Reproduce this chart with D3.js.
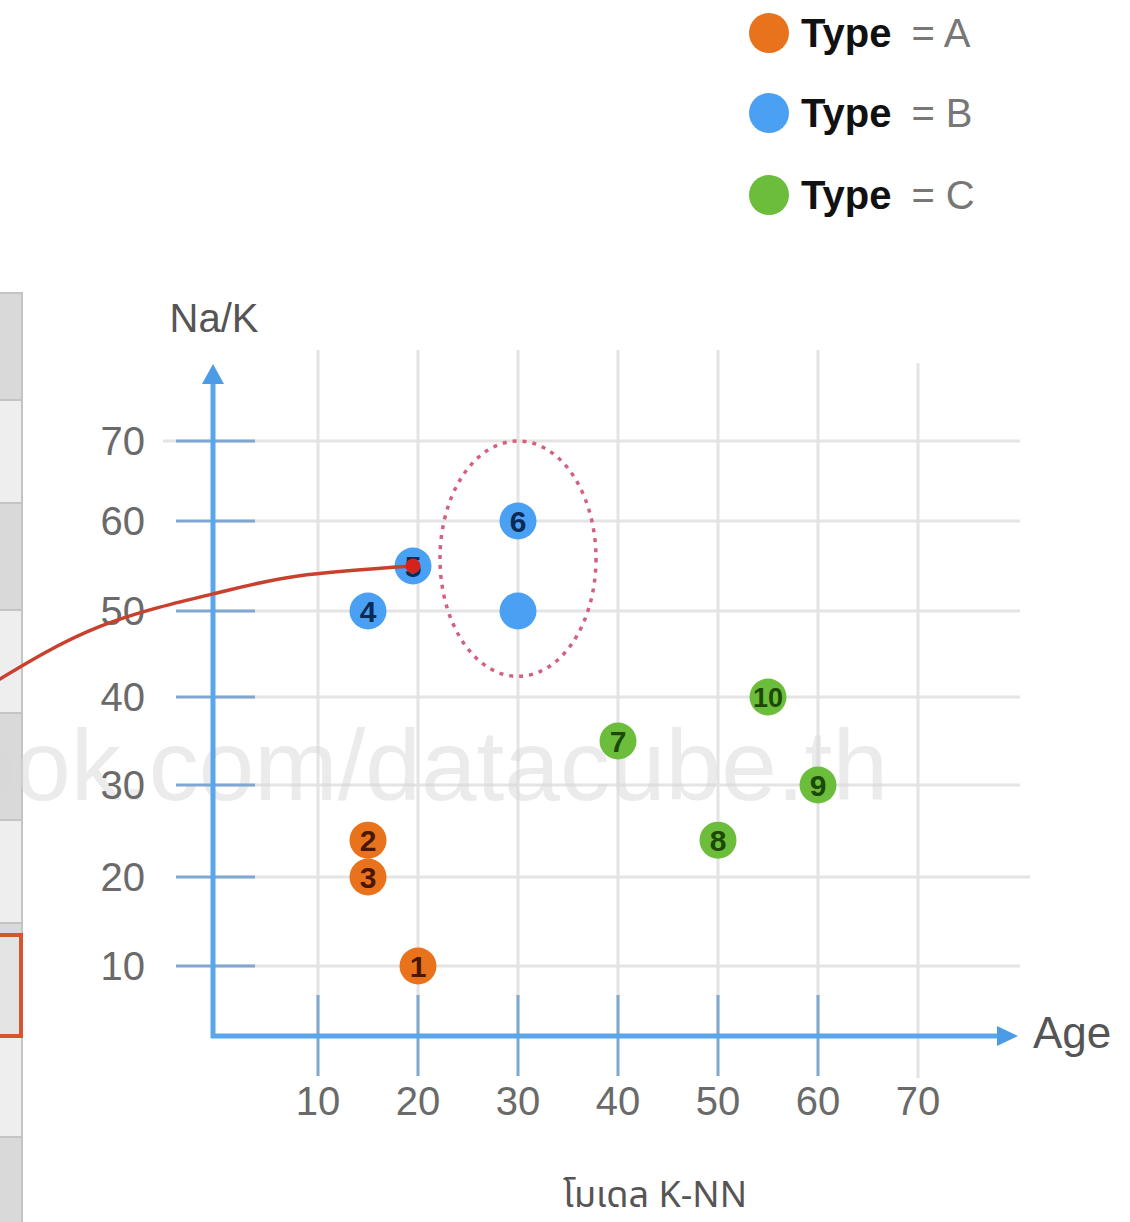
<!DOCTYPE html>
<html><head><meta charset="utf-8">
<script src="https://cdn.jsdelivr.net/npm/d3@7"></script>
<style>
html,body{margin:0;padding:0;background:#fff;}
svg{display:block;font-family:"Liberation Sans",Arial,Helvetica,sans-serif;}
</style></head>
<body>
<script>
// ---- data ----
const pointIds    = ["1","2","3","4","5","6","","7","8","9","10"];
const pointAge    = [20, 15, 15, 15, 19.5, 30, 30, 40, 50, 60, 55];
const pointNaK    = [10, 24, 20, 50, 55, 60, 50, 35, 24, 30, 40];
const pointType   = ["A","A","A","B","B","B","B","C","C","C","C"];
const types       = ["A","B","C"];
const typeColors  = ["#e8731c","#4aa0f2","#6cbd3c"];
const labelColors = ["#4a1800","#0b2a55","#1c4a05"];
const xTicks      = [10,20,30,40,50,60,70];
const yTicks      = [10,20,30,40,50,60,70];
const yTickPix    = [966,877,785,697,611,521,441];
// neighbourhood ellipse (data bounds) and connector curve (data coords)
const ellipseAge  = [22.2, 37.8];
const ellipseNaK  = [42.4, 70];
const curveAge    = [-22.5, -11.8, -0.5, 8, 19.5];
const curveNaK    = [41.6, 48.2, 51.9, 53.9, 55];
const legendText  = ["Type","= "];
const xTitle = "Age", yTitle = "Na/K", caption = "โมเดล K-NN";
const watermark = "facebook.com/datacube.th";

const W = 1130, H = 1222;
const svg = d3.select("body").append("svg").attr("width", W).attr("height", H);

// scales
const x = d3.scaleLinear().domain([10,70]).range([318,918]);
const y = d3.scaleLinear().domain(yTicks).range(yTickPix);
const color = d3.scaleOrdinal().domain(types).range(typeColors);
const lcolor = d3.scaleOrdinal().domain(types).range(labelColors);
const x0 = 213, y0 = 1036;

// ---- left partial table (decoration) ----
const rowEdges = [293,400,503,610,713,820,923,1037,1137,1240];
const tbl = svg.append("g");
for (let i = 0; i < rowEdges.length - 1; i++) {
  tbl.append("rect").attr("x", -10).attr("y", rowEdges[i]).attr("width", 32)
    .attr("height", rowEdges[i+1]-rowEdges[i])
    .attr("fill", i % 2 === 0 ? "#d9d9d9" : "#eeeeee")
    .attr("stroke", "#c4c4c4").attr("stroke-width", 2);
}
tbl.append("rect").attr("x", -10).attr("y", 935).attr("width", 31).attr("height", 101)
  .attr("fill", "#e4e4e4").attr("stroke", "#d4562a").attr("stroke-width", 4);

// ---- grid ----
const grid = svg.append("g").attr("stroke", "#e4e4e4").attr("stroke-width", 3);
grid.selectAll("line.v").data(xTicks).join("line")
  .attr("x1", d => x(d)).attr("x2", d => x(d))
  .attr("y1", d => d === 70 ? 363 : 350).attr("y2", d => d === 70 ? 1078 : y0);
grid.selectAll("line.h").data(yTicks).join("line")
  .attr("x1", d => d === 70 ? 163 : x0).attr("x2", d => d === 20 ? 1030 : 1020)
  .attr("y1", d => y(d)).attr("y2", d => y(d));

// watermark
svg.append("text").attr("x", 888).attr("y", 800).attr("text-anchor", "end")
  .attr("font-size", 100).attr("font-weight", 300).attr("fill", "#d8d8d8")
  .attr("fill-opacity", 0.5).text(watermark);

// ---- ticks ----
const ticks = svg.append("g").attr("stroke", "#7fa7cf").attr("stroke-width", 3);
ticks.selectAll("line.yt").data(yTicks).join("line")
  .attr("x1", 176).attr("x2", 255).attr("y1", d => y(d)).attr("y2", d => y(d));
ticks.selectAll("line.xt").data(xTicks.filter(d => d < 70)).join("line")
  .attr("x1", d => x(d)).attr("x2", d => x(d)).attr("y1", 995).attr("y2", 1076);

// ---- axes ----
const axisColor = "#5aa6ec";
svg.append("line").attr("x1", x0).attr("x2", x0).attr("y1", y0 + 2).attr("y2", 380)
  .attr("stroke", axisColor).attr("stroke-width", 5);
svg.append("line").attr("x1", x0 - 2).attr("x2", 1000).attr("y1", y0).attr("y2", y0)
  .attr("stroke", axisColor).attr("stroke-width", 5);
svg.append("path").attr("d", `M${x0},364 L${x0-11},384 L${x0+11},384 Z`).attr("fill", "#4b9be6");
svg.append("path").attr("d", `M1018,${y0} L997,${y0-10} L997,${y0+10} Z`).attr("fill", "#4b9be6");

// tick labels
svg.append("g").selectAll("text").data(yTicks).join("text")
  .attr("x", 145).attr("y", d => y(d)).attr("dy", "0.36em").attr("text-anchor", "end")
  .attr("font-size", 40).attr("fill", "#6a6a6a").text(d => d);
svg.append("g").selectAll("text").data(xTicks).join("text")
  .attr("x", d => x(d)).attr("y", 1115).attr("text-anchor", "middle")
  .attr("font-size", 40).attr("fill", "#6a6a6a").text(d => d);

// axis titles
svg.append("text").attr("x", 214).attr("y", 332).attr("text-anchor", "middle")
  .attr("font-size", 40).attr("fill", "#555").text(yTitle);
svg.append("text").attr("x", 1033).attr("y", 1048)
  .attr("font-size", 44).attr("fill", "#555").text(xTitle);
svg.append("text").attr("x", 655).attr("y", 1207).attr("text-anchor", "middle")
  .attr("font-size", 36).attr("fill", "#555")
  .attr("font-family", "'Noto Sans Thai','Noto Sans','DejaVu Sans',sans-serif").text(caption);

// ---- neighbourhood ellipse ----
svg.append("ellipse")
  .attr("cx", (x(ellipseAge[0]) + x(ellipseAge[1])) / 2)
  .attr("cy", (y(ellipseNaK[0]) + y(ellipseNaK[1])) / 2)
  .attr("rx", (x(ellipseAge[1]) - x(ellipseAge[0])) / 2)
  .attr("ry", (y(ellipseNaK[0]) - y(ellipseNaK[1])) / 2)
  .attr("fill", "none").attr("stroke", "#d4607e").attr("stroke-width", 3.5)
  .attr("stroke-dasharray", "4 6");

// ---- points ----
const pts = pointIds.map((id, i) => ({id, age: pointAge[i], nak: pointNaK[i], type: pointType[i]}));
const pg = svg.append("g");
pg.selectAll("circle").data(pts).join("circle")
  .attr("cx", d => x(d.age)).attr("cy", d => y(d.nak)).attr("r", 18.5)
  .attr("fill", d => color(d.type));
pg.selectAll("text").data(pts).join("text")
  .attr("x", d => x(d.age)).attr("y", d => y(d.nak)).attr("dy", "0.36em")
  .attr("text-anchor", "middle").attr("font-size", d => d.id.length > 1 ? 27 : 30)
  .attr("font-weight", "bold")
  .attr("fill", d => lcolor(d.type)).text(d => d.id);

// ---- connector curve ----
const cpts = curveAge.map((a, i) => [x(a), y(curveNaK[i])]);
svg.append("path").attr("d", d3.line().curve(d3.curveNatural)(cpts))
  .attr("fill", "none").attr("stroke", "#c8402e").attr("stroke-width", 3.5);
svg.append("circle").attr("cx", x(curveAge[4])).attr("cy", y(curveNaK[4])).attr("r", 7.5)
  .attr("fill", "#d3231c");

// ---- legend ----
const lg = svg.append("g").selectAll("g").data(types).join("g")
  .attr("transform", (d, i) => `translate(769,${[33,113,195][i]})`);
lg.append("circle").attr("r", 20).attr("fill", d => color(d));
const lt = lg.append("text").attr("x", 32).attr("y", 14).attr("font-size", 40);
lt.append("tspan").attr("font-weight", "bold").attr("fill", "#111").text(legendText[0]);
lt.append("tspan").attr("dx", 20).attr("fill", "#777").text(d => legendText[1] + d);
</script>
</body></html>
